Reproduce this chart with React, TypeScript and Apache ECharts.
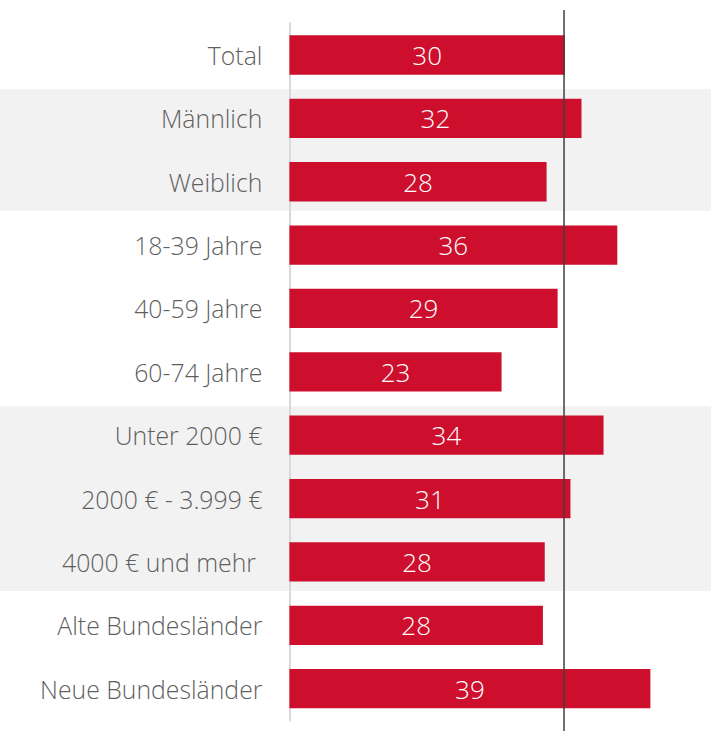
import React, { useEffect, useRef } from "react";
import * as echarts from "echarts";

const categories = [
  "Total",
  "Männlich",
  "Weiblich",
  "18-39 Jahre",
  "40-59 Jahre",
  "60-74 Jahre",
  "Unter 2000 €",
  "2000 € - 3.999 €",
  "4000 € und mehr ",
  "Alte Bundesländer",
  "Neue Bundesländer",
];
const values = [30.0, 31.8, 28.0, 35.7, 29.2, 23.1, 34.2, 30.6, 27.8, 27.6, 39.3];
const referenceValue = 29.9;
const shadedGroups = [
  ["Männlich", "Weiblich"],
  ["Unter 2000 €", "4000 € und mehr "],
];

const FONT = "'Open Sans', 'Noto Sans', sans-serif";

export default function App() {
  const ref = useRef<HTMLDivElement>(null);
  useEffect(() => {
    if (!ref.current) return;
    const chart = echarts.init(ref.current, null, { renderer: "svg" });
    chart.setOption({
      animation: false,
      grid: {
        left: 289.4,
        right: 0,
        top: 23.3,
        bottom: 10.6,
        containLabel: false,
        outerBoundsMode: "none",
      },
      xAxis: {
        type: "value",
        min: 0,
        max: 45.9,
        axisLine: { show: false },
        axisTick: { show: false },
        axisLabel: { show: false },
        splitLine: { show: false },
      },
      yAxis: {
        type: "category",
        inverse: true,
        data: categories,
        axisLine: { show: true, lineStyle: { color: "#d9d9d9", width: 2 } },
        axisTick: { show: false },
        axisLabel: {
          fontSize: 24.8,
          color: "#5f5f5f",
          fontFamily: FONT,
          fontWeight: 300,
          margin: 27,
        },
      },
      series: [
        {
          type: "bar",
          data: values,
          barWidth: "62%",
          itemStyle: { color: "#CD0F2D" },
          label: {
            show: true,
            position: "inside",
            color: "#ffffff",
            fontSize: 26,
            fontFamily: FONT,
            fontWeight: 300,
            formatter: (p: any) => String(Math.round(p.value)),
          },
        },
      ],
    });

    const yc = (c: string) => chart.convertToPixel({ yAxisIndex: 0 }, c) as number;
    const half = 29;
    const rects = shadedGroups.map(([a, b]) => {
      const top = yc(a) - half;
      const bottom = yc(b) + half;
      return {
        type: "rect",
        z: -1,
        silent: true,
        shape: { x: 0, y: top, width: 711, height: bottom - top },
        style: { fill: "#f2f2f2" },
      };
    });
    const lx = chart.convertToPixel({ xAxisIndex: 0 }, referenceValue) as number;
    chart.setOption({
      graphic: [
        ...rects,
        {
          type: "line",
          z: 10,
          silent: true,
          shape: { x1: lx, y1: 10, x2: lx, y2: 731 },
          style: { stroke: "#404040", lineWidth: 1.5 },
        },
      ],
    });
    return () => chart.dispose();
  }, []);
  return (
    <div
      ref={ref}
      style={{ position: "absolute", left: 0, top: 0, width: 711, height: 731, background: "#fff" }}
    />
  );
}
